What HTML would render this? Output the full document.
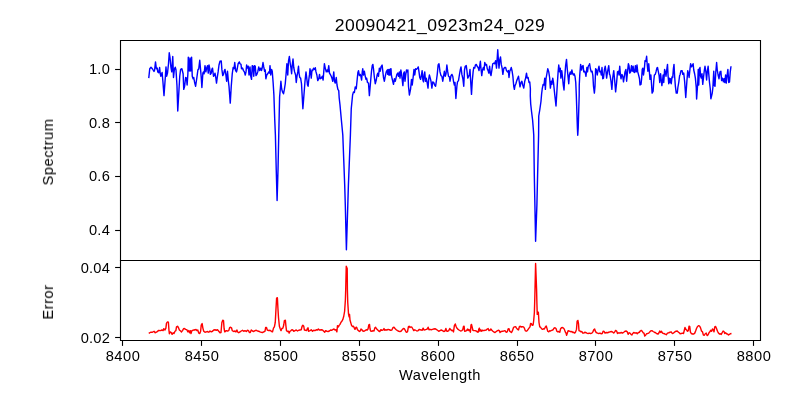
<!DOCTYPE html>
<html><head><meta charset="utf-8"><title>20090421_0923m24_029</title>
<style>
html,body{margin:0;padding:0;background:#fff;}
body{width:800px;height:400px;position:relative;overflow:hidden;font-family:"Liberation Sans",sans-serif;color:#000;}
svg{position:absolute;left:0;top:0;}
.t{position:absolute;white-space:nowrap;line-height:1;color:#000;will-change:transform;-webkit-font-smoothing:antialiased;}
</style></head><body>
<svg width="800" height="400" viewBox="0 0 800 400">
<rect x="0" y="0" width="800" height="400" fill="#fff"/>

<g fill="none" stroke-width="1.42" stroke-linejoin="round" stroke-linecap="butt">
<polyline stroke="#0000ff" points="148.75,78.12 149.75,68.75 151.00,67.25 152.50,69.00 154.00,71.50 154.62,70.00 155.50,61.88 156.38,68.75 157.25,68.12 157.75,71.88 158.75,72.75 159.62,67.50 160.25,73.75 160.88,76.25 162.12,72.50 162.88,81.25 164.00,95.62 165.38,76.25 166.00,66.88 166.62,76.25 167.50,73.12 168.50,63.75 169.25,52.75 170.00,57.50 170.88,66.88 171.75,71.88 172.75,56.50 173.50,77.50 174.38,69.38 175.25,67.25 176.00,70.00 177.00,86.25 177.75,111.00 179.75,76.25 180.62,69.38 181.88,68.75 183.12,73.75 183.75,89.38 184.62,86.25 185.62,77.50 186.50,78.12 187.12,85.00 187.88,73.75 188.25,58.75 188.30,57.30 189.30,71.00 190.00,58.00 190.70,71.00 191.60,57.30 192.25,76.25 193.12,78.75 193.75,77.50 194.62,82.50 195.62,86.25 196.88,77.50 197.88,70.00 198.75,68.75 199.75,60.25 200.62,70.00 201.25,77.50 201.88,87.50 202.88,73.12 203.50,71.88 204.12,73.75 205.00,65.62 205.88,71.88 206.62,68.12 207.50,65.62 208.25,73.12 209.00,65.00 209.75,68.75 210.38,74.38 211.25,73.12 211.88,69.38 212.50,68.12 213.50,76.25 214.38,75.00 215.00,73.12 215.88,78.12 216.50,83.12 217.25,77.50 218.12,71.88 219.00,65.00 220.00,61.25 221.25,61.00 221.88,69.38 222.75,75.62 223.50,74.38 224.38,70.62 225.00,69.38 225.88,75.00 226.62,81.25 227.50,71.25 228.38,81.25 229.00,86.25 230.25,103.12 231.25,86.25 232.25,73.75 233.12,67.50 234.00,68.75 234.75,62.50 235.62,70.62 236.50,71.88 237.25,68.75 238.12,63.75 239.38,61.88 240.00,63.75 241.00,64.38 241.50,68.75 242.50,68.12 243.50,70.62 244.38,71.88 245.25,75.00 246.00,71.88 246.62,65.00 247.50,68.12 248.25,66.25 249.00,75.00 250.00,66.88 250.62,75.62 251.50,79.38 252.25,65.62 253.00,66.25 253.75,76.25 254.50,65.62 255.25,66.25 256.00,75.62 256.88,74.38 257.75,71.88 258.75,66.88 259.75,70.62 260.62,68.12 261.50,70.62 262.25,67.50 263.00,62.50 263.75,66.88 264.62,71.25 265.25,70.00 265.88,78.75 266.75,75.00 267.75,73.75 268.75,71.88 269.50,73.12 270.00,65.62 270.75,75.00 271.50,69.38 272.25,71.25 273.12,82.50 273.90,95.00 274.75,120.00 275.40,135.00 276.25,170.00 277.10,200.60 278.00,170.00 278.75,135.00 279.20,115.00 279.60,97.00 280.40,88.00 280.90,81.25 281.62,88.75 282.50,91.88 283.50,93.75 284.38,89.38 285.25,83.75 286.00,75.00 286.88,63.75 287.75,75.00 288.50,61.25 289.38,56.50 290.25,63.75 291.00,68.12 291.62,73.75 292.25,65.00 293.00,59.00 293.75,67.50 294.62,71.88 295.62,75.00 296.25,82.50 297.00,76.25 297.75,71.88 298.50,66.25 299.00,73.12 299.75,77.50 300.62,78.12 301.50,83.75 302.88,108.75 305.00,81.25 306.00,71.88 306.62,76.88 307.50,85.00 308.12,86.25 308.75,80.00 309.50,74.38 310.00,68.75 310.75,73.12 311.25,78.12 312.00,70.00 312.75,70.62 313.50,68.12 314.38,69.38 315.25,67.75 316.00,71.88 316.88,75.00 317.75,80.62 318.75,78.75 319.50,74.38 320.25,78.75 321.25,78.12 322.25,76.25 323.12,80.00 323.75,71.88 324.38,63.75 325.25,68.12 326.25,71.88 327.12,70.00 327.88,71.88 328.75,65.62 329.50,73.12 330.25,74.38 331.25,76.25 332.12,78.75 332.75,81.25 333.75,71.88 334.50,81.25 335.25,83.12 336.25,77.50 337.00,85.00 337.88,89.38 338.75,90.62 339.20,98.00 340.00,105.00 341.25,118.75 342.80,135.00 343.75,160.00 344.70,185.00 345.30,205.00 346.40,249.75 347.80,205.00 348.40,185.00 349.40,160.00 350.40,135.00 351.25,108.75 352.60,95.00 353.50,91.88 354.38,92.50 355.25,86.88 356.25,88.75 357.25,78.75 357.88,72.50 358.50,70.62 359.38,75.62 360.25,74.38 361.00,76.88 361.62,80.00 362.25,71.88 362.75,68.75 363.50,75.00 364.38,71.25 365.25,76.25 366.00,79.38 366.62,78.12 367.50,82.50 368.50,83.12 369.38,95.62 370.62,81.25 371.50,71.25 372.25,65.62 372.88,64.38 373.50,68.75 374.38,77.50 375.25,83.75 376.25,80.00 377.12,75.00 377.75,73.12 378.50,76.25 379.38,68.12 380.25,71.25 381.00,66.88 382.12,65.00 382.88,71.88 383.50,77.50 384.38,81.25 385.25,76.25 386.25,71.88 387.25,70.00 387.75,74.38 388.12,69.38 388.75,75.00 389.25,69.75 389.75,75.00 390.25,69.00 390.75,74.75 391.00,68.75 391.38,75.25 392.00,78.12 392.75,81.25 393.50,84.38 394.38,78.75 395.25,81.25 396.00,78.12 396.88,74.38 397.75,73.12 398.50,76.25 399.38,71.88 400.00,78.12 400.88,70.00 401.62,74.38 402.25,80.00 402.88,85.62 403.75,73.12 404.38,71.88 405.00,81.25 405.62,75.62 406.50,70.00 407.25,71.88 407.88,70.00 408.50,86.25 409.38,95.00 410.62,88.75 411.50,79.38 412.25,85.00 413.12,77.50 414.00,69.38 414.75,75.00 415.62,68.75 416.50,69.38 417.50,68.12 418.25,66.88 419.00,71.88 419.75,77.50 420.62,79.38 421.50,75.00 422.12,70.62 422.88,80.00 423.50,81.88 424.12,75.00 424.75,71.88 425.50,81.25 426.25,78.12 427.12,82.50 428.00,88.12 428.75,78.75 429.38,75.00 430.25,78.12 431.00,81.25 431.88,88.12 432.75,81.88 433.75,82.50 434.62,85.00 435.62,86.25 436.50,80.00 437.25,74.38 438.12,65.00 439.00,63.75 440.00,71.88 441.00,75.62 441.88,76.25 442.75,81.25 443.50,76.88 444.38,71.25 445.25,76.25 446.00,73.75 446.88,65.00 447.75,71.88 448.50,76.25 449.38,76.88 450.00,81.25 451.00,75.62 451.88,74.38 452.75,76.25 453.50,81.25 454.38,85.00 455.00,82.50 455.88,98.50 456.88,86.25 457.50,81.88 458.50,80.62 459.38,75.00 460.25,70.00 461.00,66.88 461.88,74.38 462.88,78.75 463.75,86.25 464.50,70.00 465.25,66.25 466.25,65.62 467.00,71.25 467.75,78.12 468.75,76.25 469.38,74.38 470.00,69.38 470.75,82.50 471.50,94.38 472.25,81.25 473.12,71.88 473.75,67.50 474.75,68.12 475.38,65.00 476.25,64.38 477.12,66.25 478.12,67.50 479.00,70.62 479.75,65.62 480.38,61.25 481.00,68.75 481.75,75.62 482.50,70.00 483.38,67.50 484.12,70.00 484.75,62.50 485.62,65.00 486.50,64.38 487.25,68.75 488.12,70.62 488.75,73.12 489.62,66.25 490.38,73.75 491.00,75.62 491.88,70.00 492.75,63.75 493.75,63.12 494.62,63.75 495.62,60.62 496.50,68.12 497.25,57.50 497.75,49.75 498.38,60.00 499.00,68.12 499.75,60.00 500.50,56.88 501.25,64.38 502.12,68.12 502.88,74.38 503.75,68.75 504.62,67.50 505.62,67.50 506.50,70.62 507.50,71.88 508.38,70.62 509.00,77.50 509.75,71.25 510.62,69.38 511.25,67.50 512.12,71.25 512.88,76.25 513.75,86.25 514.38,89.38 515.00,85.62 515.88,83.75 516.75,80.62 517.50,78.75 518.50,76.25 519.38,82.50 520.00,86.88 521.00,82.50 521.88,81.25 522.75,85.00 523.75,88.12 524.75,81.25 525.62,78.12 526.50,73.12 527.25,78.12 528.12,77.50 529.00,82.50 529.75,81.88 530.38,88.75 530.30,96.00 530.70,104.00 531.60,112.00 532.60,120.00 533.40,130.00 533.75,135.00 534.30,175.00 534.90,205.00 535.60,241.25 536.90,205.00 537.60,175.00 538.60,135.00 538.75,116.00 539.75,110.00 541.00,101.25 541.60,94.00 542.25,88.75 543.12,84.38 544.00,85.00 544.75,78.12 545.38,89.38 546.00,78.75 546.88,73.75 547.75,68.75 548.75,71.88 549.62,77.50 550.38,88.12 551.25,81.25 551.88,84.38 552.75,78.12 553.50,82.50 554.38,91.25 556.00,106.00 557.50,81.25 558.12,71.88 558.75,65.00 559.62,71.88 560.25,68.12 560.88,78.12 561.75,70.62 562.50,76.88 563.25,85.00 564.00,90.00 564.75,77.50 565.62,65.62 566.50,59.38 567.25,68.75 568.12,77.50 568.75,83.75 569.38,75.00 570.25,71.88 571.00,74.38 571.88,70.00 572.50,73.12 573.38,75.00 574.12,73.75 575.00,76.25 575.75,82.50 576.30,95.00 577.40,128.00 577.75,135.25 578.20,128.00 579.20,95.00 579.25,85.00 579.75,75.00 580.62,64.38 581.50,70.00 582.25,66.25 583.12,65.62 583.75,71.88 584.62,71.25 585.38,73.12 586.00,76.25 586.88,67.50 587.50,71.88 588.25,66.25 589.00,65.00 589.62,63.75 590.38,68.75 591.25,71.88 592.12,71.25 592.88,75.62 593.50,86.25 594.38,93.12 595.00,86.25 595.62,68.75 596.50,70.00 597.25,75.00 598.12,70.00 599.00,66.25 599.75,71.88 600.62,71.25 601.25,75.00 602.00,67.50 602.75,78.75 603.50,78.12 604.38,70.00 605.25,66.25 606.00,71.88 606.62,78.12 607.50,71.88 608.75,65.62 609.50,74.38 610.00,75.00 611.00,81.25 611.88,89.38 612.75,77.50 613.75,70.62 614.62,80.00 615.62,91.88 616.50,83.75 617.50,71.88 618.38,71.25 619.00,75.00 619.75,66.25 620.38,74.38 621.00,78.75 621.88,74.38 622.75,76.25 623.50,81.88 624.38,76.25 625.00,71.88 625.88,69.38 626.62,81.25 627.50,71.88 628.38,63.75 629.00,65.62 629.75,73.12 630.62,71.88 631.50,65.62 632.25,71.25 633.12,66.25 633.75,71.88 634.62,72.50 635.38,65.62 636.25,71.88 637.00,65.00 637.75,71.88 638.75,75.62 639.50,78.75 640.00,85.00 641.00,84.38 641.62,78.75 642.25,69.38 642.88,68.12 643.50,75.00 644.38,68.75 645.00,60.62 645.88,61.25 646.62,56.25 647.25,65.00 647.88,71.25 648.75,63.75 649.38,71.88 650.00,79.38 650.88,75.00 651.50,83.75 652.12,93.12 653.12,91.25 653.75,81.25 654.38,75.00 655.25,74.38 656.00,71.88 656.88,68.12 657.50,67.50 658.38,71.88 659.12,75.62 659.75,82.50 660.62,73.75 661.25,80.00 661.88,85.62 662.50,81.25 663.12,75.00 663.75,82.50 664.62,69.38 665.38,71.88 666.00,76.25 666.88,68.75 667.50,64.38 668.12,76.25 668.75,83.75 669.38,78.12 670.00,82.50 670.62,78.75 671.25,83.75 672.00,76.88 672.75,77.50 673.38,68.75 674.00,64.38 674.62,76.25 675.38,86.25 676.25,93.12 677.25,93.12 677.88,87.50 678.75,82.50 679.62,75.62 680.00,75.00 681.00,70.62 682.12,70.62 682.75,74.38 683.75,73.12 684.62,81.25 685.75,97.50 686.88,81.25 687.75,70.62 688.50,73.75 689.12,77.50 690.00,68.75 690.62,63.75 691.50,66.88 692.25,65.62 693.12,63.75 693.75,70.00 694.62,73.75 695.38,78.12 696.25,87.50 696.62,99.00 697.75,82.50 698.25,69.38 698.75,85.00 699.38,68.75 700.00,67.50 700.62,76.25 701.25,78.12 702.00,73.75 702.75,84.38 703.50,77.50 704.38,70.00 705.00,66.25 705.88,71.88 706.62,80.00 707.25,71.88 708.12,66.25 708.75,73.75 709.50,82.50 710.25,88.75 710.88,98.75 712.25,93.12 712.88,87.50 713.75,71.25 714.38,85.62 715.00,86.25 715.75,72.50 716.62,62.50 717.25,70.00 718.12,75.00 719.00,78.75 720.00,71.88 720.88,71.25 721.62,80.62 722.50,78.12 723.38,81.88 724.12,78.75 724.75,82.50 725.62,75.00 726.25,83.12 727.00,76.25 727.88,69.38 728.75,82.50 729.50,81.88 730.25,71.88 731.00,66.25"/>
<polyline stroke="#ff0000" points="148.75,333.38 150.62,332.25 152.50,332.25 154.12,331.25 155.00,332.75 156.88,331.88 158.75,330.38 160.62,330.62 161.88,330.00 163.12,330.62 163.75,328.75 165.00,330.00 165.88,328.12 166.50,323.12 167.50,321.88 168.38,322.25 169.00,330.62 169.38,333.75 170.25,331.88 171.25,332.50 172.12,334.38 173.12,332.75 174.00,333.50 175.00,331.25 175.88,330.62 176.50,326.88 177.50,326.25 178.50,327.75 179.38,330.00 180.62,331.00 181.50,331.88 182.50,330.62 183.50,328.75 184.38,328.50 185.62,329.38 186.88,329.75 187.88,331.88 188.75,330.62 189.62,332.75 190.38,330.62 191.00,333.50 191.88,330.62 193.12,330.25 194.00,329.75 195.00,330.00 196.00,329.38 196.88,330.62 197.75,330.00 198.75,333.12 199.75,333.50 200.62,331.25 201.25,325.00 202.12,323.50 202.88,328.12 203.75,331.25 205.00,332.25 206.25,331.88 207.50,331.50 208.75,332.25 210.00,331.00 211.25,331.88 212.50,331.25 213.75,330.00 215.00,329.75 216.25,330.25 217.50,329.75 218.75,331.25 220.00,332.75 221.00,332.50 221.88,322.50 222.75,320.25 223.50,320.62 224.12,328.75 224.75,331.88 226.25,330.62 227.50,331.00 228.75,330.62 229.62,327.75 230.62,327.25 231.50,327.75 232.25,330.62 233.75,331.50 235.00,331.00 236.00,331.88 236.88,330.00 237.88,332.25 238.75,332.75 240.00,331.88 241.25,331.00 242.50,330.25 243.75,331.25 245.00,330.62 246.25,331.50 247.50,330.25 248.50,330.62 249.38,332.50 250.25,332.50 251.25,330.00 252.50,331.00 253.75,331.50 255.00,330.62 256.25,330.25 257.50,331.00 258.75,331.25 260.00,331.88 261.25,332.25 262.50,332.50 263.75,331.88 265.00,331.25 265.62,327.50 266.50,327.50 267.25,330.00 268.75,330.62 270.00,330.25 271.25,331.25 272.50,331.88 273.50,328.12 274.38,326.88 275.25,322.50 276.00,308.75 276.62,298.12 277.38,297.75 277.88,307.50 278.50,317.50 279.38,326.25 280.25,328.75 281.00,330.62 281.88,328.50 282.88,328.12 283.75,325.00 284.38,320.62 285.38,320.25 285.88,325.62 286.50,330.62 287.50,331.50 288.50,331.25 289.12,333.12 290.00,331.25 291.00,330.62 291.88,329.75 292.75,330.00 293.75,331.25 295.00,330.62 296.25,330.00 297.50,331.00 298.75,330.25 300.00,330.00 301.25,329.75 302.12,326.25 302.88,325.25 303.75,326.25 304.38,330.00 305.62,330.25 306.62,330.62 307.50,328.12 308.12,327.88 308.50,331.25 310.00,330.62 311.25,329.75 312.50,331.25 313.75,330.25 315.00,330.62 316.25,329.75 317.50,330.00 318.38,329.00 319.38,330.00 320.00,330.00 321.25,329.75 322.50,330.00 323.75,331.25 324.75,332.25 325.62,330.62 326.88,331.25 328.12,331.50 329.38,331.00 330.62,330.00 331.88,330.25 333.12,329.38 334.00,329.00 335.00,330.00 336.00,329.75 336.88,331.88 337.50,325.62 338.38,326.88 339.12,325.38 340.00,324.38 341.00,322.25 341.88,321.25 342.88,319.38 343.75,316.25 344.62,311.25 345.38,300.00 345.70,290.00 346.25,266.25 347.20,268.50 347.40,290.00 347.75,302.50 348.50,313.75 349.12,316.88 349.50,314.38 350.00,320.00 350.88,323.12 351.62,325.62 352.50,326.50 353.50,326.25 354.38,328.12 355.00,329.38 355.88,327.50 356.62,327.25 357.50,329.75 358.50,330.62 359.38,331.50 360.25,331.00 361.00,329.00 361.88,329.75 362.88,331.00 363.75,331.25 365.00,330.62 366.25,329.75 367.25,330.00 368.12,328.75 368.75,325.00 369.50,324.38 370.00,328.75 370.62,331.00 371.88,331.25 373.12,330.62 374.00,331.00 374.75,328.12 375.62,327.25 376.50,328.75 377.50,329.75 378.75,331.00 379.75,331.50 380.88,329.75 381.88,330.25 383.12,330.00 384.00,328.50 384.75,330.25 385.62,329.75 386.88,330.00 388.12,329.38 389.38,329.75 390.62,330.25 391.88,330.00 392.88,327.75 394.00,327.25 395.00,328.50 396.25,329.75 397.50,330.62 398.75,331.25 400.00,331.62 401.25,331.00 402.50,329.38 403.50,328.50 404.38,328.75 405.38,330.62 406.25,332.25 407.50,331.88 408.38,326.88 409.12,326.25 410.00,327.50 410.88,326.88 411.88,327.25 412.75,328.75 413.75,330.62 414.75,329.75 415.62,330.25 416.88,331.00 418.12,330.62 419.38,329.38 420.00,329.75 421.25,330.00 422.25,330.25 423.12,328.12 424.00,330.00 425.00,329.75 426.25,329.38 427.25,329.00 428.12,327.25 429.00,329.75 430.00,329.38 431.25,329.75 432.50,329.38 433.75,329.00 435.00,328.75 436.25,329.38 437.50,330.25 438.75,331.25 440.00,330.62 441.25,330.00 442.50,330.62 443.75,331.50 445.00,331.00 445.88,328.50 446.62,331.00 447.50,331.25 448.75,330.62 449.75,328.50 450.62,329.38 451.50,330.62 452.50,330.25 453.50,331.88 454.38,325.62 455.25,324.00 456.00,326.25 456.88,328.12 458.12,329.38 459.38,330.25 460.62,331.00 461.88,330.62 462.75,329.75 463.50,326.50 464.12,326.25 464.62,331.25 465.62,331.00 466.50,330.62 467.50,329.00 468.12,330.62 468.75,329.38 469.62,330.25 470.38,332.25 471.00,325.00 471.50,324.38 472.25,327.50 472.88,330.25 473.75,330.62 475.00,330.62 476.25,331.00 477.25,331.88 478.12,332.25 478.75,329.38 479.38,328.12 480.00,331.25 480.88,329.75 481.62,331.25 482.50,330.25 483.75,330.62 485.00,330.25 486.25,330.00 487.25,329.00 488.12,328.50 489.00,330.62 490.00,330.25 490.88,329.00 491.88,330.25 492.88,331.25 493.75,331.88 495.00,332.50 496.25,331.50 497.50,330.62 498.75,330.25 499.62,331.00 500.00,332.50 501.25,331.50 502.50,331.25 503.75,331.00 505.00,330.62 506.25,332.25 507.25,331.88 508.12,329.00 509.00,328.75 509.75,331.25 510.62,331.88 511.50,332.50 512.50,330.62 513.50,327.50 514.38,326.88 515.62,326.62 516.50,328.12 517.50,329.38 518.50,330.00 519.38,326.62 520.25,326.25 521.25,327.12 522.25,326.62 523.50,326.88 524.38,328.12 525.25,330.62 526.25,331.25 527.25,330.62 528.12,329.38 529.00,328.12 530.00,326.88 530.62,323.50 531.50,323.75 532.25,325.38 533.12,325.00 533.75,320.00 534.38,312.50 534.75,300.00 535.00,290.00 535.60,263.50 536.60,290.00 536.88,302.50 537.25,314.38 537.88,311.88 538.38,312.50 539.00,322.50 539.75,326.88 540.62,327.25 541.50,328.75 542.50,329.38 543.50,328.75 544.38,329.00 545.25,327.25 546.25,326.00 546.88,328.12 547.75,331.25 548.75,331.88 549.75,330.62 550.62,331.00 551.88,330.25 553.12,329.75 554.00,328.12 555.00,327.75 556.00,328.50 556.88,331.25 557.75,331.88 558.75,331.50 559.75,332.25 560.62,328.75 561.50,327.75 562.50,327.50 563.50,328.12 564.38,329.38 565.25,331.88 566.00,333.12 566.62,335.25 567.50,332.50 568.12,330.62 569.12,331.00 570.00,331.25 571.00,331.88 571.88,331.50 572.88,332.50 573.75,332.25 574.75,333.12 575.62,331.88 576.50,329.38 577.12,321.25 577.88,320.38 578.50,323.75 579.00,330.62 580.00,331.00 581.00,331.88 581.88,331.50 582.75,333.12 583.75,333.12 584.75,332.25 585.62,332.50 586.88,333.12 588.12,333.50 589.38,333.12 590.62,333.50 591.88,333.12 592.88,331.88 593.75,329.75 594.62,329.00 595.38,331.25 596.25,332.50 597.50,333.12 598.75,333.50 600.00,333.12 601.25,333.75 602.25,333.50 603.12,331.25 604.12,331.50 605.00,333.12 606.25,332.50 607.50,332.75 608.75,332.25 610.00,331.88 611.25,331.50 612.50,331.88 613.75,333.12 614.75,331.88 615.62,330.38 616.62,331.00 617.50,333.50 618.75,332.75 620.00,333.12 621.25,332.50 622.50,333.12 623.75,332.25 625.00,331.25 626.25,331.00 627.25,331.88 628.12,334.38 629.00,332.75 630.00,333.12 631.00,334.38 631.88,335.00 632.75,333.50 633.75,332.50 635.00,333.12 636.25,332.75 637.25,333.75 638.12,332.75 639.38,332.25 640.25,331.00 641.25,330.38 642.25,331.25 643.12,332.75 644.00,333.12 644.75,336.00 645.62,335.25 646.50,333.75 647.50,333.50 648.75,333.12 649.75,331.88 650.62,331.00 651.88,330.62 653.12,331.50 654.38,332.25 655.62,332.75 656.88,333.75 658.12,334.00 659.00,332.75 659.75,331.00 660.62,332.50 661.50,331.25 662.50,333.12 663.75,333.50 665.00,334.00 666.25,334.75 667.50,333.12 668.75,332.75 670.00,332.25 671.25,331.88 672.25,333.50 673.50,333.12 674.75,331.88 676.00,331.25 677.25,331.00 678.50,332.25 679.75,333.12 680.00,333.75 681.25,333.50 682.50,333.12 683.50,333.50 684.38,330.00 685.00,327.50 685.88,329.38 686.62,330.00 687.50,331.25 688.38,330.62 689.00,326.25 689.75,326.50 690.38,331.88 691.25,333.50 692.50,334.00 693.75,334.00 694.75,333.12 695.62,331.00 696.50,328.50 697.50,326.50 698.75,325.62 699.75,326.25 700.62,328.12 701.50,331.00 702.50,331.88 703.38,335.00 704.38,335.25 705.25,333.75 706.25,333.12 707.12,335.62 708.12,334.75 709.00,332.75 710.00,331.50 710.88,330.25 711.62,331.25 712.50,329.00 713.38,330.00 714.00,331.88 714.75,326.88 715.62,326.50 716.50,328.50 717.50,331.25 718.50,333.12 719.38,334.00 720.38,333.75 721.25,334.38 722.25,332.50 723.12,331.00 724.00,331.50 724.75,333.50 725.62,332.75 726.50,333.75 727.50,334.00 728.50,335.00 729.38,334.38 730.38,333.75 731.50,333.50"/>
</g>
<g fill="none" stroke="#000" stroke-width="1.11" stroke-linecap="square">
<path d="M120.5 40.5H760.5V340.5H120.5Z"/>
<path d="M120.5 260.5H760.5"/>
</g>
<g fill="none" stroke="#000" stroke-width="1.11" stroke-linecap="butt">
<path d="M115.1 69.5H120"/>
<path d="M115.1 122.5H120"/>
<path d="M115.1 176.5H120"/>
<path d="M115.1 230.5H120"/>
<path d="M115.1 267.5H120"/>
<path d="M115.1 337.5H120"/>
<path d="M122.5 341V345.9"/>
<path d="M201.5 341V345.9"/>
<path d="M280.5 341V345.9"/>
<path d="M359.5 341V345.9"/>
<path d="M438.5 341V345.9"/>
<path d="M517.5 341V345.9"/>
<path d="M595.5 341V345.9"/>
<path d="M674.5 341V345.9"/>
<path d="M753.5 341V345.9"/>
</g>
</svg>
<div class="t" style="left:440.30px;top:17.50px;font-size:16.90px;transform-origin:50% 0;transform:translateX(-50%) scale(1.0400,1.0000);letter-spacing:0.500px;">20090421_0923m24_029</div>
<div class="t" style="left:109.80px;top:61.50px;font-size:14.10px;transform-origin:100% 0;transform:translateX(-100%) scale(1.0400,1.0000);letter-spacing:0.200px;">1.0</div>
<div class="t" style="left:109.80px;top:115.50px;font-size:14.10px;transform-origin:100% 0;transform:translateX(-100%) scale(1.0400,1.0000);letter-spacing:0.200px;">0.8</div>
<div class="t" style="left:109.80px;top:168.50px;font-size:14.10px;transform-origin:100% 0;transform:translateX(-100%) scale(1.0400,1.0000);letter-spacing:0.200px;">0.6</div>
<div class="t" style="left:109.80px;top:222.50px;font-size:14.10px;transform-origin:100% 0;transform:translateX(-100%) scale(1.0400,1.0000);letter-spacing:0.200px;">0.4</div>
<div class="t" style="left:109.80px;top:260.50px;font-size:14.10px;transform-origin:100% 0;transform:translateX(-100%) scale(1.0400,1.0000);letter-spacing:0.200px;">0.04</div>
<div class="t" style="left:109.80px;top:330.50px;font-size:14.10px;transform-origin:100% 0;transform:translateX(-100%) scale(1.0400,1.0000);letter-spacing:0.200px;">0.02</div>
<div class="t" style="left:122.95px;top:349.00px;font-size:14.10px;transform-origin:50% 0;transform:translateX(-50%) scale(1.0400,1.0000);letter-spacing:0.500px;">8400</div>
<div class="t" style="left:201.86px;top:349.00px;font-size:14.10px;transform-origin:50% 0;transform:translateX(-50%) scale(1.0400,1.0000);letter-spacing:0.500px;">8450</div>
<div class="t" style="left:280.77px;top:349.00px;font-size:14.10px;transform-origin:50% 0;transform:translateX(-50%) scale(1.0400,1.0000);letter-spacing:0.500px;">8500</div>
<div class="t" style="left:359.07px;top:349.00px;font-size:14.10px;transform-origin:50% 0;transform:translateX(-50%) scale(1.0400,1.0000);letter-spacing:0.500px;">8550</div>
<div class="t" style="left:437.98px;top:349.00px;font-size:14.10px;transform-origin:50% 0;transform:translateX(-50%) scale(1.0400,1.0000);letter-spacing:0.500px;">8600</div>
<div class="t" style="left:516.88px;top:349.00px;font-size:14.10px;transform-origin:50% 0;transform:translateX(-50%) scale(1.0400,1.0000);letter-spacing:0.500px;">8650</div>
<div class="t" style="left:595.79px;top:349.00px;font-size:14.10px;transform-origin:50% 0;transform:translateX(-50%) scale(1.0400,1.0000);letter-spacing:0.500px;">8700</div>
<div class="t" style="left:674.70px;top:349.00px;font-size:14.10px;transform-origin:50% 0;transform:translateX(-50%) scale(1.0400,1.0000);letter-spacing:0.500px;">8750</div>
<div class="t" style="left:753.60px;top:349.00px;font-size:14.10px;transform-origin:50% 0;transform:translateX(-50%) scale(1.0400,1.0000);letter-spacing:0.500px;">8800</div>
<div class="t" style="left:440.20px;top:367.50px;font-size:14.10px;transform-origin:50% 0;transform:translateX(-50%) scale(1.0400,1.0000);letter-spacing:0.500px;">Wavelength</div>
<div class="t" style="left:47.50px;top:152.00px;font-size:14.10px;transform-origin:50% 50%;transform:translate(-50%,-50%) rotate(-90deg) scale(1.0400,1.0000);letter-spacing:0.500px;">Spectrum</div>
<div class="t" style="left:47.50px;top:302.30px;font-size:14.10px;transform-origin:50% 50%;transform:translate(-50%,-50%) rotate(-90deg) scale(1.0400,1.0000);letter-spacing:0.500px;">Error</div>
</body></html>
